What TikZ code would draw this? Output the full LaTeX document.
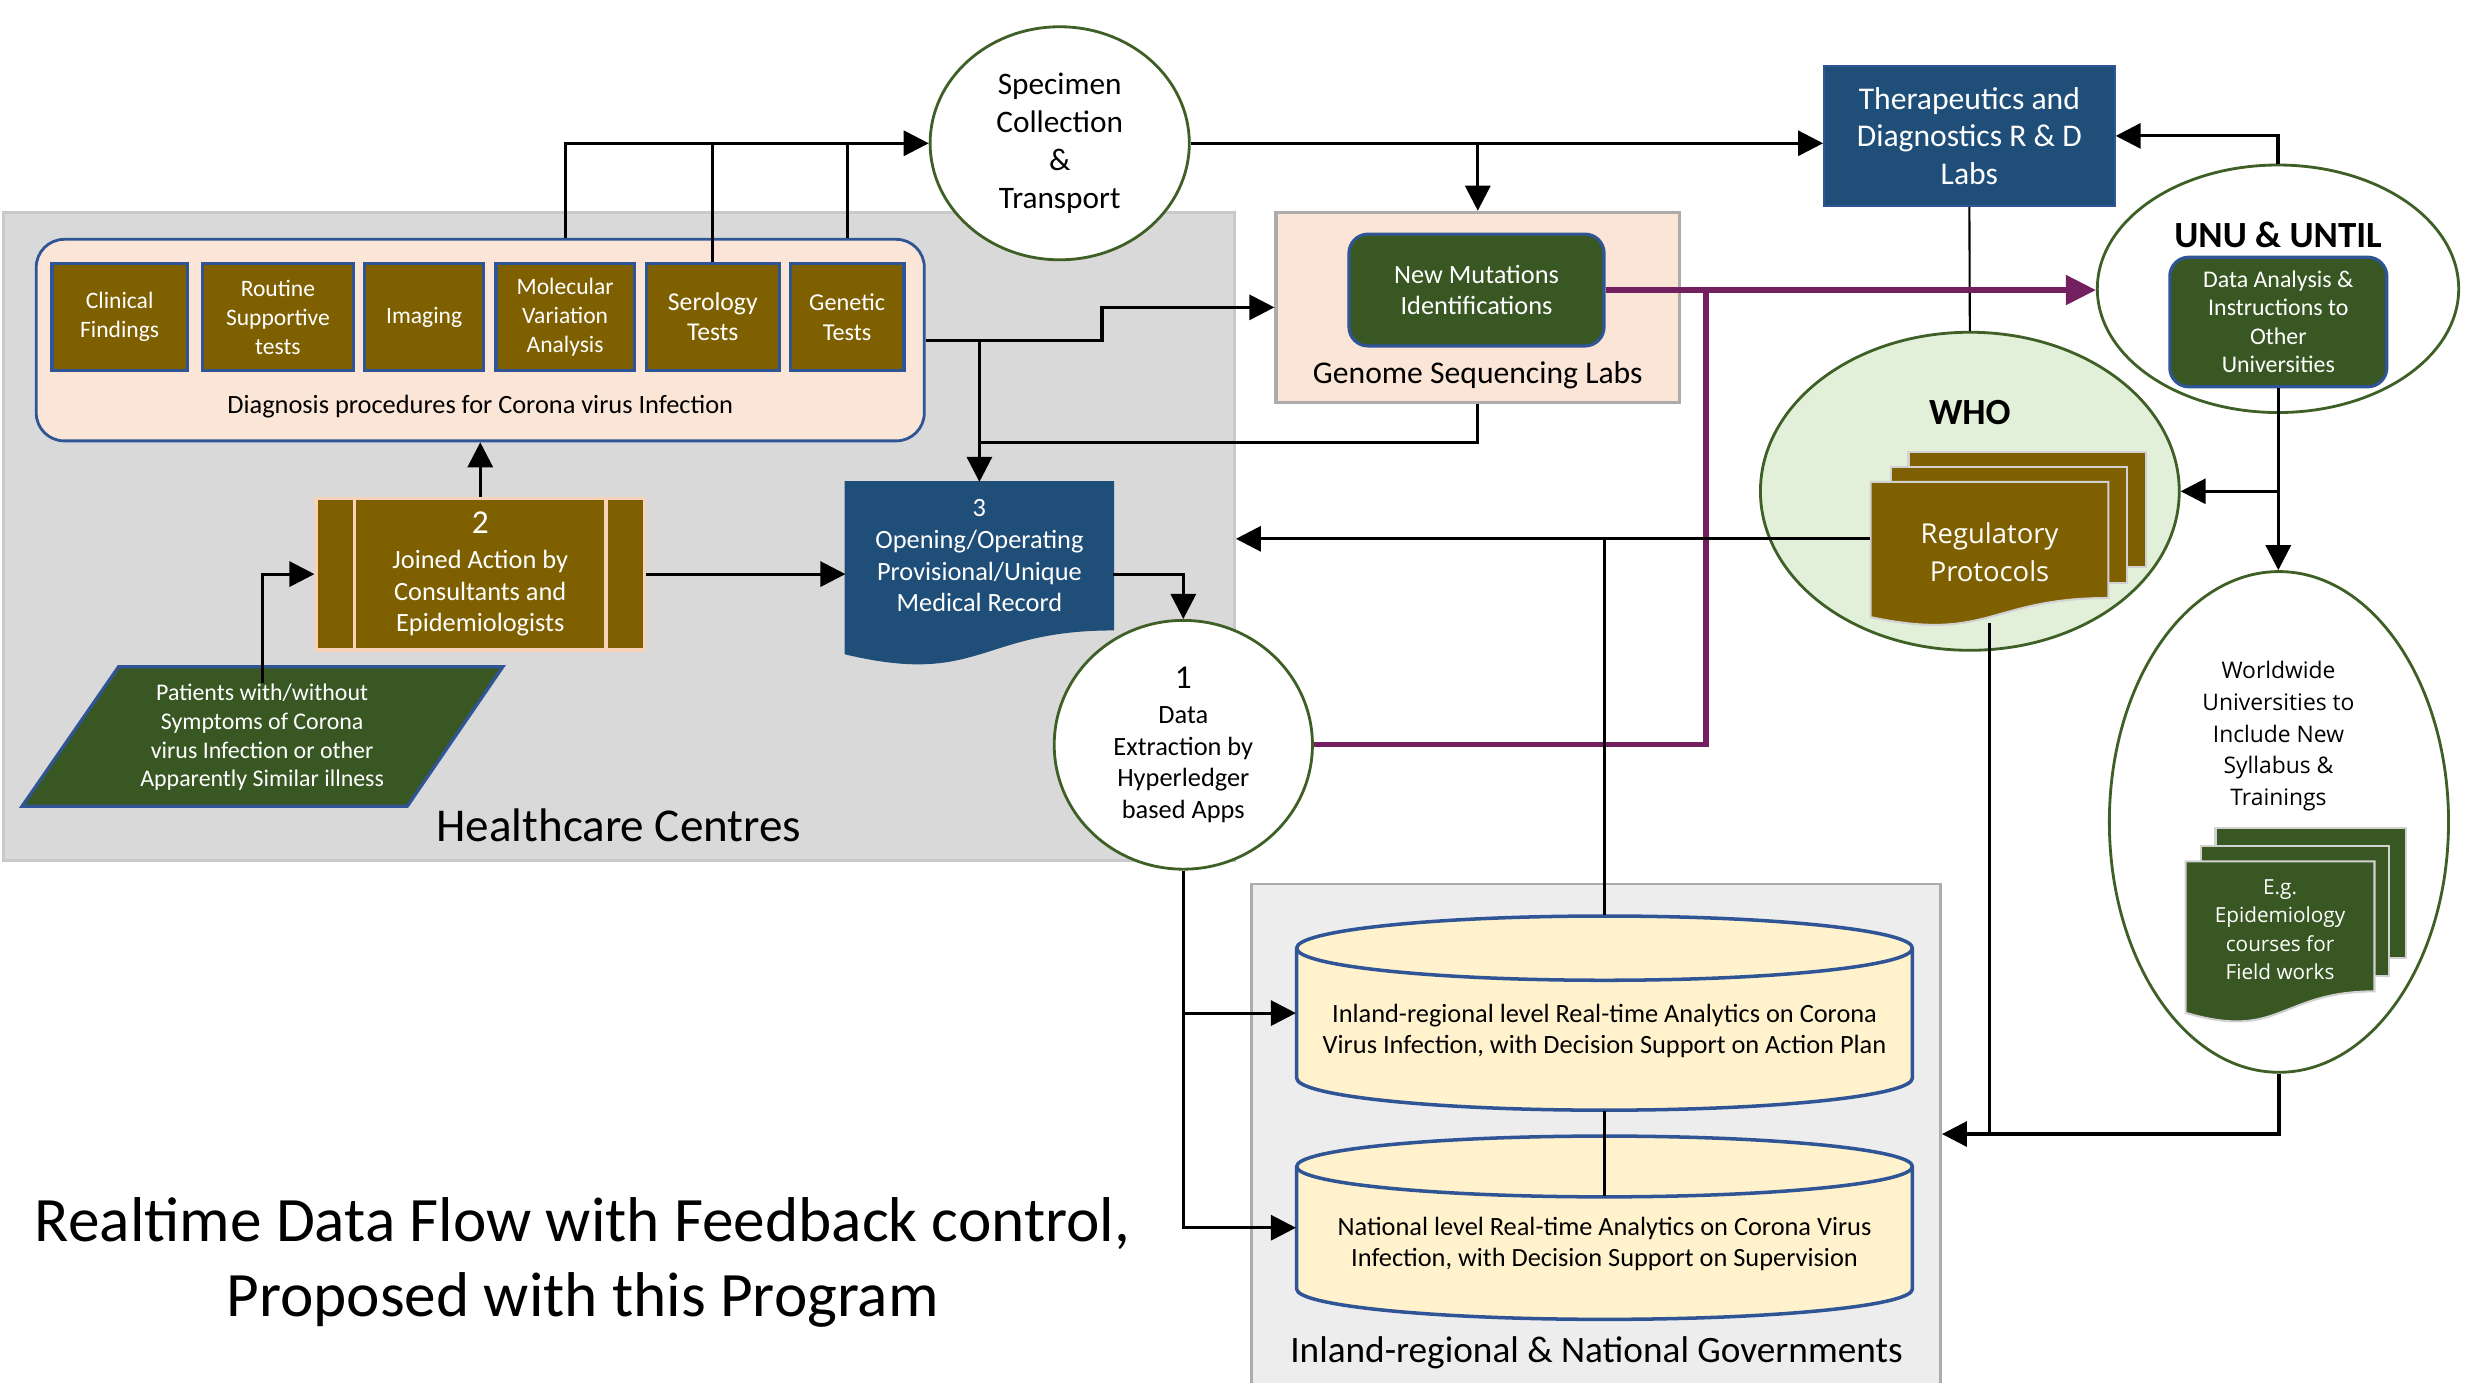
\documentclass[tikz,border=0pt]{standalone}
\usepackage{fontspec}
\setmainfont{Carlito}
\newfontfamily\opensans{Open Sans}
\usetikzlibrary{positioning,calc,arrows.meta,shapes.geometric}
\newcommand\dpx{0.15746mm}
\newcommand\fsz[2]{\fontsize{#1}{#2}\selectfont}
\definecolor{hcgray}{HTML}{D9D9D9}
\definecolor{hcedge}{HTML}{C9C9C9}
\definecolor{govgray}{HTML}{EDEDED}
\definecolor{govedge}{HTML}{AFABAB}
\definecolor{peach}{HTML}{FBE5D6}
\definecolor{peachedge}{HTML}{F8D3BC}
\definecolor{edgeblue}{HTML}{2F5597}
\definecolor{olive}{HTML}{7F6000}
\definecolor{darkgreen}{HTML}{385723}
\definecolor{ovalgreen}{HTML}{3E5F26}
\definecolor{navy}{HTML}{1F4E79}
\definecolor{palegreen}{HTML}{E2F0D9}
\definecolor{cream}{HTML}{FFF2CC}
\definecolor{plumline}{RGB}{114,32,96}

\begin{document}
\begin{tikzpicture}[%
    x=\dpx, y=-\dpx,                       % one unit is one pixel of the sketch, y runs down
    >={Triangle[length=2.5mm,width=2.5mm]}, % filled heads
    font=\fsz{7.5}{9},
    ]
% -------------------------------------------------
% Box styles and the two drawn shapes
\tikzset{
  base/.style={align=center, inner sep=0pt},
  zone/.style={base, rectangle, line width=0.8pt},
  exam/.style={base, rectangle, fill=olive, draw=edgeblue, line width=0.9pt,
    text=white, minimum height=68*\dpx, font=\fsz{6.7}{8.3}},
  oval/.style={base, ellipse, fill=white, draw=ovalgreen, line width=0.8pt},
  panel/.style={base, rectangle, rounded corners=1.9mm, fill=darkgreen,
    draw=edgeblue, line width=0.9pt, text=white},
  page/.style={draw=white!82!black, line width=0.6pt},
  % Connector line styles
  flow/.style={draw, line width=0.9pt},
  slim/.style={draw, line width=0.6pt},
  mut/.style={draw=plumline, line width=1.5pt, >={Triangle[length=3mm,width=2.9mm]}},
  pics/docpage/.style 2 args={code={
    \path[pic actions] (-#1/2,-#2/2) -- (#1/2,-#2/2) -- (#1/2,#2/2)
      .. controls (0,#2/2) and (0,#2/2+0.3815*#2) .. (-#1/2,#2/2+0.1646*#2) -- cycle;}},
  pics/dbcyl/.style n args={3}{code={
    \path[pic actions] (-#1/2,-#2/2+#3) -- (-#1/2,#2/2-#3)
      arc[start angle=180, end angle=360, x radius=#1/2*\dpx, y radius=#3*\dpx]
      -- (#1/2,-#2/2+#3)
      arc[start angle=0, end angle=180, x radius=#1/2*\dpx, y radius=#3*\dpx] -- cycle;
    \path[pic actions, fill=none] (-#1/2,-#2/2+#3)
      arc[start angle=180, end angle=360, x radius=#1/2*\dpx, y radius=#3*\dpx];}}
}
\useasboundingbox (0,0) rectangle (1568,878);
% -------------------------------------------------
% Start by placing the nodes

\node[zone, fill=hcgray, draw=hcedge, minimum width=782*\dpx, minimum height=411.5*\dpx] (hc) at (393,340.9) {};
\node[base, font=\fsz{13.4}{16}] (hctag) at (393,524) {Healthcare Centres};
\node[zone, fill=govgray, draw=govedge, minimum width=437.4*\dpx, minimum height=317.6*\dpx] (gov) at (1013.7,720.2) {};
\node[base, font=\fsz{10.6}{12.7}] (govtag) at (1013.9,859.4) {Inland-regional \& National Governments};

\node[zone, rounded corners=2.8mm, fill=peach, draw=edgeblue, minimum width=564*\dpx, minimum height=128*\dpx] (diag) at (305,216) {};
\node[base] (diagtag) at (305,258.3) {Diagnosis procedures for Corona virus Infection};
\node[exam, minimum width=86*\dpx] (clin) at (76,201.4) {Clinical\\Findings};
\node[exam, minimum width=96.3*\dpx] (rout) at (176.5,201.4) {Routine\\Supportive\\tests};
\node[exam, minimum width=75.8*\dpx] (imag) at (269.4,201.4) {Imaging};
\node[exam, minimum width=87.9*\dpx] (mol) at (358.9,201.4) {Molecular\\Variation\\Analysis};
\node[exam, minimum width=84.6*\dpx, font=\fsz{7.3}{8.5}] (sero) at (452.7,201.4) {Serology\\Tests};
\node[exam, minimum width=72.3*\dpx, font=\fsz{6.9}{8.5}] (gen) at (538,201.4) {Genetic\\Tests};

\node[base, rectangle, fill=olive, draw=peachedge, line width=0.9pt, text=white, minimum width=208.6*\dpx, minimum height=96.4*\dpx] (joined) at (305,364.6) {{\fsz{9.5}{11}2}\\[1pt]Joined Action by\\Consultants and\\Epidemiologists};
\draw[peachedge, line width=0.9pt] ($(joined.north west)+(25.6,0)$) -- ($(joined.south west)+(25.6,0)$);
\draw[peachedge, line width=0.9pt] ($(joined.north east)+(-25.5,0)$) -- ($(joined.south east)+(-25.5,0)$);

\filldraw[fill=darkgreen, draw=edgeblue, line width=0.9pt] (75.3,423.4) -- (319.4,423.4) -- (258.7,512) -- (14,512) -- cycle;
\node[base, text=white, font=\fsz{6.8}{8.2}] (pat) at (166.5,468.2) {Patients with/without\\Symptoms of Corona\\virus Infection or other\\Apparently Similar illness};

\pic[fill=navy, draw=navy, line width=0.8pt] at (622,353) {docpage={169.3}{93}};
\node[base, text=white, minimum width=169.3*\dpx, minimum height=93*\dpx] (rec) at (622,353) {3\\Opening/Operating\\Provisional/Unique\\Medical Record};

\node[oval, minimum width=164*\dpx, minimum height=158*\dpx] (data) at (751.5,473) {{\fsz{9.5}{11}1}\\[1pt]Data\\Extraction by\\Hyperledger\\based Apps};
\node[oval, minimum width=164.6*\dpx, minimum height=148*\dpx, font=\fsz{8.9}{10.9}] (spec) at (673,91) {Specimen\\Collection\\\&\\Transport};

\node[zone, fill=peach, draw=govedge, line width=0.9pt, minimum width=256.3*\dpx, minimum height=120.7*\dpx] (gsl) at (938.5,195.2) {};
\node[base, font=\fsz{9}{10.8}] (gsltag) at (938.5,238) {Genome Sequencing Labs};
\node[panel, minimum width=162*\dpx, minimum height=71*\dpx] (newm) at (937.7,184.2) {New Mutations\\Identifications};

\node[base, rectangle, fill=navy, draw=edgeblue, line width=0.6pt, text=white, font=\fsz{9}{10.6}, minimum width=184.5*\dpx, minimum height=88.7*\dpx] (thera) at (1250.7,86.3) {Therapeutics and\\Diagnostics R \& D\\Labs};

\node[oval, minimum width=229.5*\dpx, minimum height=157.2*\dpx] (unu) at (1446.7,183.4) {};
\node[base, font=\bfseries\fsz{10.5}{12.6}] (unutag) at (1446.7,149) {UNU \& UNTIL};
\node[panel, font=\fsz{6.8}{8.1}, minimum width=137.8*\dpx, minimum height=82.3*\dpx] (dana) at (1446.9,204.5) {Data Analysis \&\\Instructions to\\Other\\Universities};

\node[oval, fill=palegreen, minimum width=266*\dpx, minimum height=202*\dpx] (who) at (1251,312) {};
\node[base, font=\bfseries\fsz{10.5}{12.6}] (whotag) at (1251,262) {WHO};
\filldraw[page, fill=olive] (1212,287) rectangle (1363,360);
\filldraw[page, fill=olive] (1201,296.5) rectangle (1351,370);
\pic[page, fill=olive] at (1263.5,342.9) {docpage={151}{73.8}};
\node[base, text=white, font=\opensans\fsz{7.8}{10.9}, minimum width=151*\dpx, minimum height=89*\dpx] (reg) at (1263.5,350.5) {Regulatory\\Protocols};

\node[oval, minimum width=215.4*\dpx, minimum height=318*\dpx] (wwu) at (1447.3,522) {};
\node[base, font=\opensans\fsz{6.5}{9}] (wwutag) at (1447,467.5) {Worldwide\\Universities to\\Include New\\Syllabus \&\\Trainings};
\filldraw[page, fill=darkgreen] (1407,526) rectangle (1528,608.5);
\filldraw[page, fill=darkgreen] (1398,537) rectangle (1517,620);
\pic[page, fill=darkgreen] at (1448,588.3) {docpage={120}{82.6}};
\node[base, text=white, font=\opensans\fsz{5.9}{8.1}] (eg) at (1448,590.4) {E.g.\\Epidemiology\\courses for\\Field works};

\pic[fill=cream, draw=edgeblue, line width=1pt] at (1019,643.4) {dbcyl={391.1}{123.3}{20.4}};
\node[base, minimum width=391.1*\dpx, minimum height=101*\dpx, font=\fsz{7.5}{8.8}] (cyl1) at (1019,654.5) {Inland-regional level Real-time Analytics on Corona\\Virus Infection, with Decision Support on Action Plan};
\pic[fill=cream, draw=edgeblue, line width=1pt] at (1019,779.7) {dbcyl={391.1}{116.4}{19.3}};
\node[base, minimum width=391.1*\dpx, minimum height=95.8*\dpx, font=\fsz{7.5}{8.8}] (cyl2) at (1019,790) {National level Real-time Analytics on Corona Virus\\Infection, with Decision Support on Supervision};

\node[base, font=\fsz{18}{21.4}] (title) at (370,802) {Realtime Data Flow with Feedback control,\\Proposed with this Program};

% -------------------------------------------------
% Connectors
\draw[flow,->] (diag.north -| mol) |- (spec.west);		%Diagnosis,Specimen
\draw[flow] (sero.north) -- (sero.north |- spec.west);		%Serology,Specimen
\draw[flow] (diag.north -| gen) -- (gen |- spec.west);		%Genetic,Specimen
\draw[flow,->] (spec.east) -- (spec.east -| thera.west);		%Specimen,Therapeutics
\draw[flow,->] (spec.east -| gsl.north) -- (gsl.north);		%Specimen,Genome
\draw[flow,->] (diag.east) -- ++(112,0) |- (gsl.west);		%Diagnosis,Genome
\draw[flow,->] (diag.east -| rec.north) -- (rec.north);		%Diagnosis,Record
\draw[flow] (gsl.south) |- ($(rec.north)+(0,-25)$);		%Genome,Record
\draw[flow,->] (joined.north) -- (diag.south);		%Joined,Diagnosis
\draw[flow,->] (pat.north) |- (joined.west);		%Patients,Joined
\draw[flow,->] (joined.east) -- (joined.east -| rec.west);		%Joined,Record
\draw[flow,->] (joined.east -| rec.east) -| (data.north);		%Record,Data
\draw[flow,->] (data.south) |- ($(cyl1.west)+(0,-11.1)$);		%Data,Inland-regional
\draw[flow,->] (data.south) |- ($(cyl2.west)+(0,-10.3)$);		%Data,National
\draw[slim] (cyl1.south) -- ($(cyl2.north)+(0,18)$);		%Inland-regional,National
\draw[slim] (thera.south) -- (who.north);		%Therapeutics,WHO
\draw[mut,->] (newm.east) -- (newm.east -| unu.west);		%Mutations,UNU
\draw[mut] (data.east) -- ++(249,0) |- (newm.east);		%Data,UNU
\draw[slim] ($(cyl1.north)+(0,-22.3)$) -- ($(reg.west -| cyl1.north)+(0,-8.3)$);		%Inland-regional,Regulatory
\draw[flow,->] ($(reg.west)+(0,-8.3)$) -- ($(reg.west -| hc.east)+(0,-8.3)$);		%Regulatory,Healthcare
\draw[flow] (reg.south) -- (reg.south |- gov.east);		%Regulatory,Governments
\draw[flow,->] (wwu.south) |- (gov.east);		%Worldwide,Governments
\draw[flow,->] (unu.north) |- (thera.east);		%UNU,Therapeutics
\draw[flow,->] (dana.south) -- (dana.south |- wwu.north);		%UNU,Worldwide
\draw[flow,->] (dana.south |- who.east) -- (who.east);		%UNU,WHO

% -------------------------------------------------
\end{tikzpicture}
\end{document}
